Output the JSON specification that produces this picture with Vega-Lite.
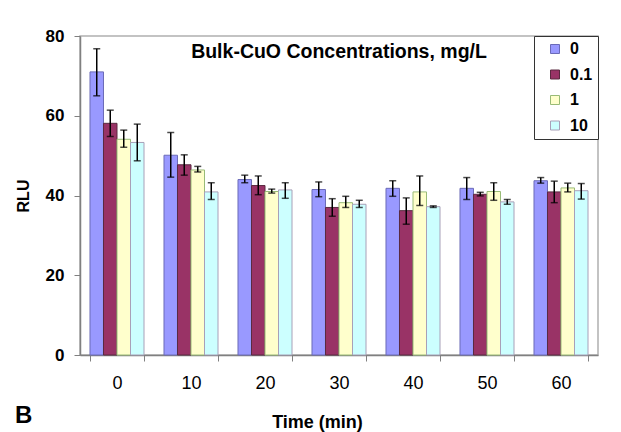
{
  "$schema": "https://vega.github.io/schema/vega-lite/v6.json",
  "autosize": "none",
  "width": 518,
  "height": 319,
  "padding": {"left": 80, "top": 36, "right": 23, "bottom": 77},
  "background": "white",
  "title": {
    "text": "B",
    "orient": "bottom",
    "anchor": "start",
    "frame": "bounds",
    "fontSize": 24,
    "font": "Liberation Sans",
    "fontWeight": "bold",
    "color": "black",
    "offset": 0,
    "dy": -27
  },
  "layer": [
    {
      "data": {
        "values": [
          {"time": "0", "conc": "0", "mean": 71.0, "lo": 65.0, "hi": 76.8},
          {"time": "0", "conc": "0.1", "mean": 58.1, "lo": 54.8, "hi": 61.4},
          {"time": "0", "conc": "1", "mean": 54.1, "lo": 52.1, "hi": 56.4},
          {"time": "0", "conc": "10", "mean": 53.3, "lo": 48.7, "hi": 57.9},
          {"time": "10", "conc": "0", "mean": 50.1, "lo": 44.6, "hi": 55.8},
          {"time": "10", "conc": "0.1", "mean": 47.7, "lo": 45.1, "hi": 50.2},
          {"time": "10", "conc": "1", "mean": 46.4, "lo": 45.9, "hi": 47.3},
          {"time": "10", "conc": "10", "mean": 40.9, "lo": 39.0, "hi": 43.2},
          {"time": "20", "conc": "0", "mean": 44.0, "lo": 43.2, "hi": 45.1},
          {"time": "20", "conc": "0.1", "mean": 42.5, "lo": 40.2, "hi": 44.9},
          {"time": "20", "conc": "1", "mean": 41.0, "lo": 40.6, "hi": 41.6},
          {"time": "20", "conc": "10", "mean": 41.4, "lo": 39.3, "hi": 43.2},
          {"time": "30", "conc": "0", "mean": 41.5, "lo": 39.7, "hi": 43.4},
          {"time": "30", "conc": "0.1", "mean": 37.0, "lo": 34.8, "hi": 39.2},
          {"time": "30", "conc": "1", "mean": 38.2, "lo": 37.0, "hi": 39.8},
          {"time": "30", "conc": "10", "mean": 37.8, "lo": 37.0, "hi": 38.8},
          {"time": "40", "conc": "0", "mean": 41.8, "lo": 39.8, "hi": 43.7},
          {"time": "40", "conc": "0.1", "mean": 36.2, "lo": 32.8, "hi": 39.4},
          {"time": "40", "conc": "1", "mean": 40.9, "lo": 37.5, "hi": 44.9},
          {"time": "40", "conc": "10", "mean": 37.2, "lo": 37.0, "hi": 37.4},
          {"time": "50", "conc": "0", "mean": 41.8, "lo": 39.0, "hi": 44.5},
          {"time": "50", "conc": "0.1", "mean": 40.3, "lo": 39.9, "hi": 40.8},
          {"time": "50", "conc": "1", "mean": 41.0, "lo": 38.8, "hi": 43.2},
          {"time": "50", "conc": "10", "mean": 38.4, "lo": 37.8, "hi": 39.0},
          {"time": "60", "conc": "0", "mean": 43.7, "lo": 43.1, "hi": 44.5},
          {"time": "60", "conc": "0.1", "mean": 40.9, "lo": 38.2, "hi": 43.6},
          {"time": "60", "conc": "1", "mean": 41.9, "lo": 40.9, "hi": 43.1},
          {"time": "60", "conc": "10", "mean": 41.2, "lo": 39.1, "hi": 43.0}
        ]
      },
      "encoding": {
        "x": {
          "field": "time",
          "type": "ordinal",
          "sort": ["0", "10", "20", "30", "40", "50", "60"],
          "scale": {"paddingInner": 0.27, "paddingOuter": 0.135},
          "axis": {
            "title": "Time (min)",
            "titleFont": "Liberation Sans",
            "titleFontSize": 18,
            "titleFontWeight": "bold",
            "titleColor": "black",
            "titlePadding": 21,
            "titleX": 237,
            "labelAngle": 0,
            "labelFont": "Liberation Sans",
            "labelFontSize": 18,
            "labelColor": "black",
            "labelPadding": 13,
            "tickBand": "extent",
            "tickSize": 6,
            "tickColor": "#808080",
            "domainColor": "#808080",
            "domainWidth": 1.5,
            "grid": false
          }
        },
        "xOffset": {
          "field": "conc",
          "type": "nominal",
          "sort": ["0", "0.1", "1", "10"],
          "scale": {"paddingInner": 0, "paddingOuter": 0}
        }
      },
      "layer": [
        {
          "mark": {"type": "bar", "strokeWidth": 1},
          "encoding": {
            "y": {
              "field": "mean",
              "type": "quantitative",
              "scale": {"domain": [0, 80], "nice": false},
              "axis": {
                "title": "RLU",
                "titleFont": "Liberation Sans",
                "titleFontSize": 16,
                "titleFontWeight": "bold",
                "titleColor": "black",
                "titlePadding": 14,
                "values": [0, 20, 40, 60, 80],
                "labelFont": "Liberation Sans",
                "labelFontSize": 17,
                "labelFontWeight": "bold",
                "labelColor": "black",
                "labelPadding": 10,
                "tickSize": 6,
                "tickColor": "#808080",
                "domainColor": "#808080",
                "domainWidth": 1.5,
                "grid": false
              }
            },
            "fill": {
              "field": "conc",
              "type": "nominal",
              "sort": ["0", "0.1", "1", "10"],
              "scale": {"domain": ["0", "0.1", "1", "10"], "range": ["#9999ff", "#993366", "#ffffcc", "#ccffff"]},
              "legend": {
                "title": null,
                "orient": "top-right",
                "offset": 0,
                "strokeColor": "#333333",
                "fillColor": "white",
                "padding": 5,
                "symbolOffset": 8,
                "symbolType": "square",
                "symbolSize": 81,
                "symbolStrokeWidth": 1,
                "labelFont": "Liberation Sans",
                "labelFontSize": 16,
                "labelFontWeight": "bold",
                "labelColor": "black",
                "labelOffset": 7,
                "rowPadding": 9.5,
                "labelExpr": "datum.label + '  '"
              }
            },
            "stroke": {
              "field": "conc",
              "type": "nominal",
              "sort": ["0", "0.1", "1", "10"],
              "scale": {"domain": ["0", "0.1", "1", "10"], "range": ["#6b6bb8", "#5a2a40", "#99bb77", "#a8a0b8"]},
              "legend": null
            }
          }
        },
        {
          "mark": {"type": "rule", "color": "black", "strokeWidth": 1.5},
          "encoding": {
            "y": {"field": "lo", "type": "quantitative"},
            "y2": {"field": "hi"}
          }
        },
        {
          "mark": {"type": "tick", "color": "black", "thickness": 1.5, "size": 7},
          "encoding": {
            "y": {"field": "lo", "type": "quantitative"}
          }
        },
        {
          "mark": {"type": "tick", "color": "black", "thickness": 1.5, "size": 7},
          "encoding": {
            "y": {"field": "hi", "type": "quantitative"}
          }
        }
      ]
    },
    {
      "data": {"values": [{"label": "Bulk-CuO Concentrations, mg/L"}]},
      "mark": {"type": "text", "font": "Liberation Sans", "fontSize": 19.5, "fontWeight": "bold", "color": "black", "align": "center", "baseline": "middle"},
      "encoding": {
        "text": {"field": "label"},
        "x": {"datum": "30"},
        "y": {"datum": 76}
      }
    }
  ],
  "config": {
    "view": {"stroke": "#b0b0b0", "strokeWidth": 1.5}
  }
}
